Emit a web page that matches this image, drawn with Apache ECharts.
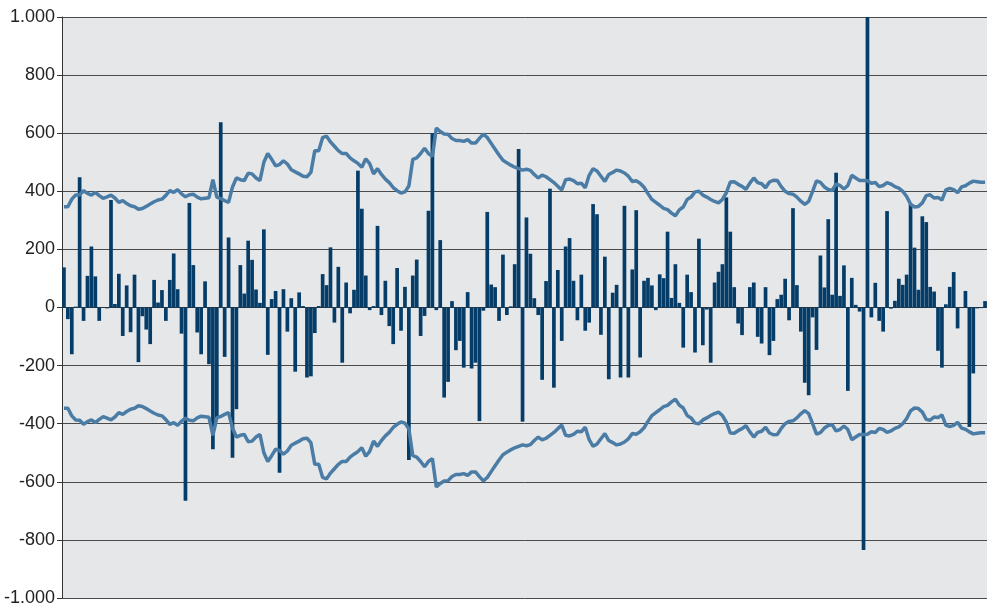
<!DOCTYPE html>
<html>
<head>
<meta charset="utf-8">
<script src="https://cdn.jsdelivr.net/npm/echarts@6/dist/echarts.min.js"></script>
<style>
html,body{margin:0;padding:0;background:#ffffff;}
#chart{width:987px;height:607px;}
</style>
</head>
<body>
<div id="chart"></div>
<script>
const bars = [138,-40,-161,3,448,-46,109,210,107,-46,
0,-3,370,12,116,-98,76,-85,113,-188,
-30,-76,-126,95,17,60,-46,95,186,63,
-90,-665,360,146,-86,-161,90,-195,-488,-380,
638,-170,241,-517,-350,146,48,230,164,62,
16,269,-163,29,57,-569,63,-83,32,-221,
52,5,-241,-237,-88,5,115,77,207,-52,
140,-190,86,-20,61,471,340,110,-9,5,
281,-26,92,-64,-126,136,-80,71,-525,110,
165,-98,-29,333,600,-9,232,-310,-256,22,
-147,-115,-207,53,-210,-190,-391,-11,329,79,
70,-46,182,-26,4,149,546,-393,310,185,
32,-26,-249,91,409,-276,129,-115,210,239,
92,-44,113,-80,-52,356,321,-94,175,-247,
51,78,-241,350,-241,131,335,-172,92,102,
76,-9,114,101,261,33,149,16,-138,113,
53,-155,237,-130,-7,-190,86,123,149,379,
261,70,-55,-95,0,70,86,-101,-124,70,
-164,-115,29,44,99,-44,342,77,-83,-259,
-302,-34,-146,179,69,304,44,464,40,145,
-287,102,9,-14,-835,1000,-34,85,-46,-83,
332,-4,23,99,78,113,356,206,61,314,
294,71,55,-149,-207,11,71,122,-72,0,
57,-411,-227,-3,-2,22];

const upperBand = [347,347,373,387,388,402,393,387,396,385,
376,381,387,377,362,368,358,350,347,338,
341,348,356,364,370,373,386,402,396,406,
391,381,388,390,380,374,376,378,440,380,
375,368,362,415,446,440,437,462,460,446,
437,500,530,510,488,492,505,494,474,467,
460,452,450,465,540,540,585,590,570,555,
540,530,530,515,505,496,483,512,495,460,
478,458,442,430,413,402,394,398,418,510,
515,530,548,530,520,618,606,597,596,582,
575,575,572,578,566,566,582,597,585,565,
545,525,507,498,490,483,478,473,476,472,
458,446,456,450,440,430,417,405,440,442,
437,426,428,412,455,478,470,452,434,458,
465,473,470,463,452,434,436,428,414,392,
372,362,352,341,337,325,316,336,346,372,
380,398,400,387,380,372,365,360,372,395,
432,433,424,417,407,428,446,430,426,412,
432,438,437,416,400,392,390,380,366,355,
365,400,436,431,415,406,403,425,420,408,
420,455,446,437,437,436,428,430,416,420,
430,425,416,411,400,382,356,346,348,360,
385,388,377,379,370,405,410,406,395,415,
419,428,435,433,431,431];

const lowerBand = [-347,-347,-373,-387,-388,-402,-393,-387,-396,-385,
-376,-381,-387,-377,-362,-368,-358,-350,-347,-338,
-341,-348,-356,-364,-370,-373,-386,-402,-396,-406,
-391,-381,-388,-390,-380,-374,-376,-378,-440,-380,
-375,-368,-362,-415,-446,-440,-437,-462,-460,-446,
-437,-500,-530,-510,-488,-492,-505,-494,-474,-467,
-460,-452,-450,-465,-540,-540,-585,-590,-570,-555,
-540,-530,-530,-515,-505,-496,-483,-512,-495,-460,
-478,-458,-442,-430,-413,-402,-394,-398,-418,-510,
-515,-530,-548,-530,-520,-618,-606,-597,-596,-582,
-575,-575,-572,-578,-566,-566,-582,-597,-585,-565,
-545,-525,-507,-498,-490,-483,-478,-473,-476,-472,
-458,-446,-456,-450,-440,-430,-417,-405,-440,-442,
-437,-426,-428,-412,-455,-478,-470,-452,-434,-458,
-465,-473,-470,-463,-452,-434,-436,-428,-414,-392,
-372,-362,-352,-341,-337,-325,-316,-336,-346,-372,
-380,-398,-400,-387,-380,-372,-365,-360,-372,-395,
-432,-433,-424,-417,-407,-428,-446,-430,-426,-412,
-432,-438,-437,-416,-400,-392,-390,-380,-366,-355,
-365,-400,-436,-431,-415,-406,-403,-425,-420,-408,
-420,-455,-446,-437,-437,-436,-428,-430,-416,-420,
-430,-425,-416,-411,-400,-382,-356,-346,-348,-360,
-385,-388,-377,-379,-370,-405,-410,-406,-395,-415,
-419,-428,-435,-433,-431,-431];

const yTicks = [-1000,-800,-600,-400,-200,0,200,400,600,800,1000];
const categories = bars.map((_, i) => String(i + 1));

function fmt(v) {
  const neg = v < 0;
  let s = String(Math.abs(v));
  s = s.replace(/\B(?=(\d{3})+(?!\d))/g, '.');
  return (neg ? '-' : '') + s;
}

const chart = echarts.init(document.getElementById('chart'), null, {renderer: 'canvas'});
chart.setOption({
  animation: false,
  backgroundColor: '#ffffff',
  grid: {left: 62, right: 0, top: 17, bottom: 9, show: true, backgroundColor: '#e6e7e9', borderWidth: 0},
  xAxis: {
    type: 'category',
    data: categories,
    boundaryGap: true,
    axisLabel: {show: false},
    axisTick: {show: false},
    axisLine: {show: true, onZero: true, lineStyle: {color: '#333333', width: 1}},
    splitLine: {show: false}
  },
  yAxis: {
    type: 'value',
    min: yTicks[0],
    max: yTicks[yTicks.length - 1],
    interval: 200,
    axisLine: {show: true, lineStyle: {color: '#333333', width: 1}},
    axisTick: {show: true, length: 5, lineStyle: {color: '#333333'}},
    axisLabel: {
      formatter: fmt,
      color: '#222222',
      fontSize: 18,
      fontFamily: 'Liberation Sans, Arial, sans-serif',
      margin: 7
    },
    splitLine: {show: true, lineStyle: {color: '#4a4a4a', width: 1}}
  },
  series: [
    {
      type: 'bar',
      data: bars,
      barWidth: 3.7,
      itemStyle: {color: '#053d68'},
      clip: true,
      z: 2
    },
    {
      type: 'line',
      data: upperBand,
      showSymbol: false,
      symbol: 'none',
      lineStyle: {color: '#4a7ca6', width: 3.5},
      z: 3
    },
    {
      type: 'line',
      data: lowerBand,
      showSymbol: false,
      symbol: 'none',
      lineStyle: {color: '#4a7ca6', width: 3.5},
      z: 3
    }
  ]
});
</script>
</body>
</html>
